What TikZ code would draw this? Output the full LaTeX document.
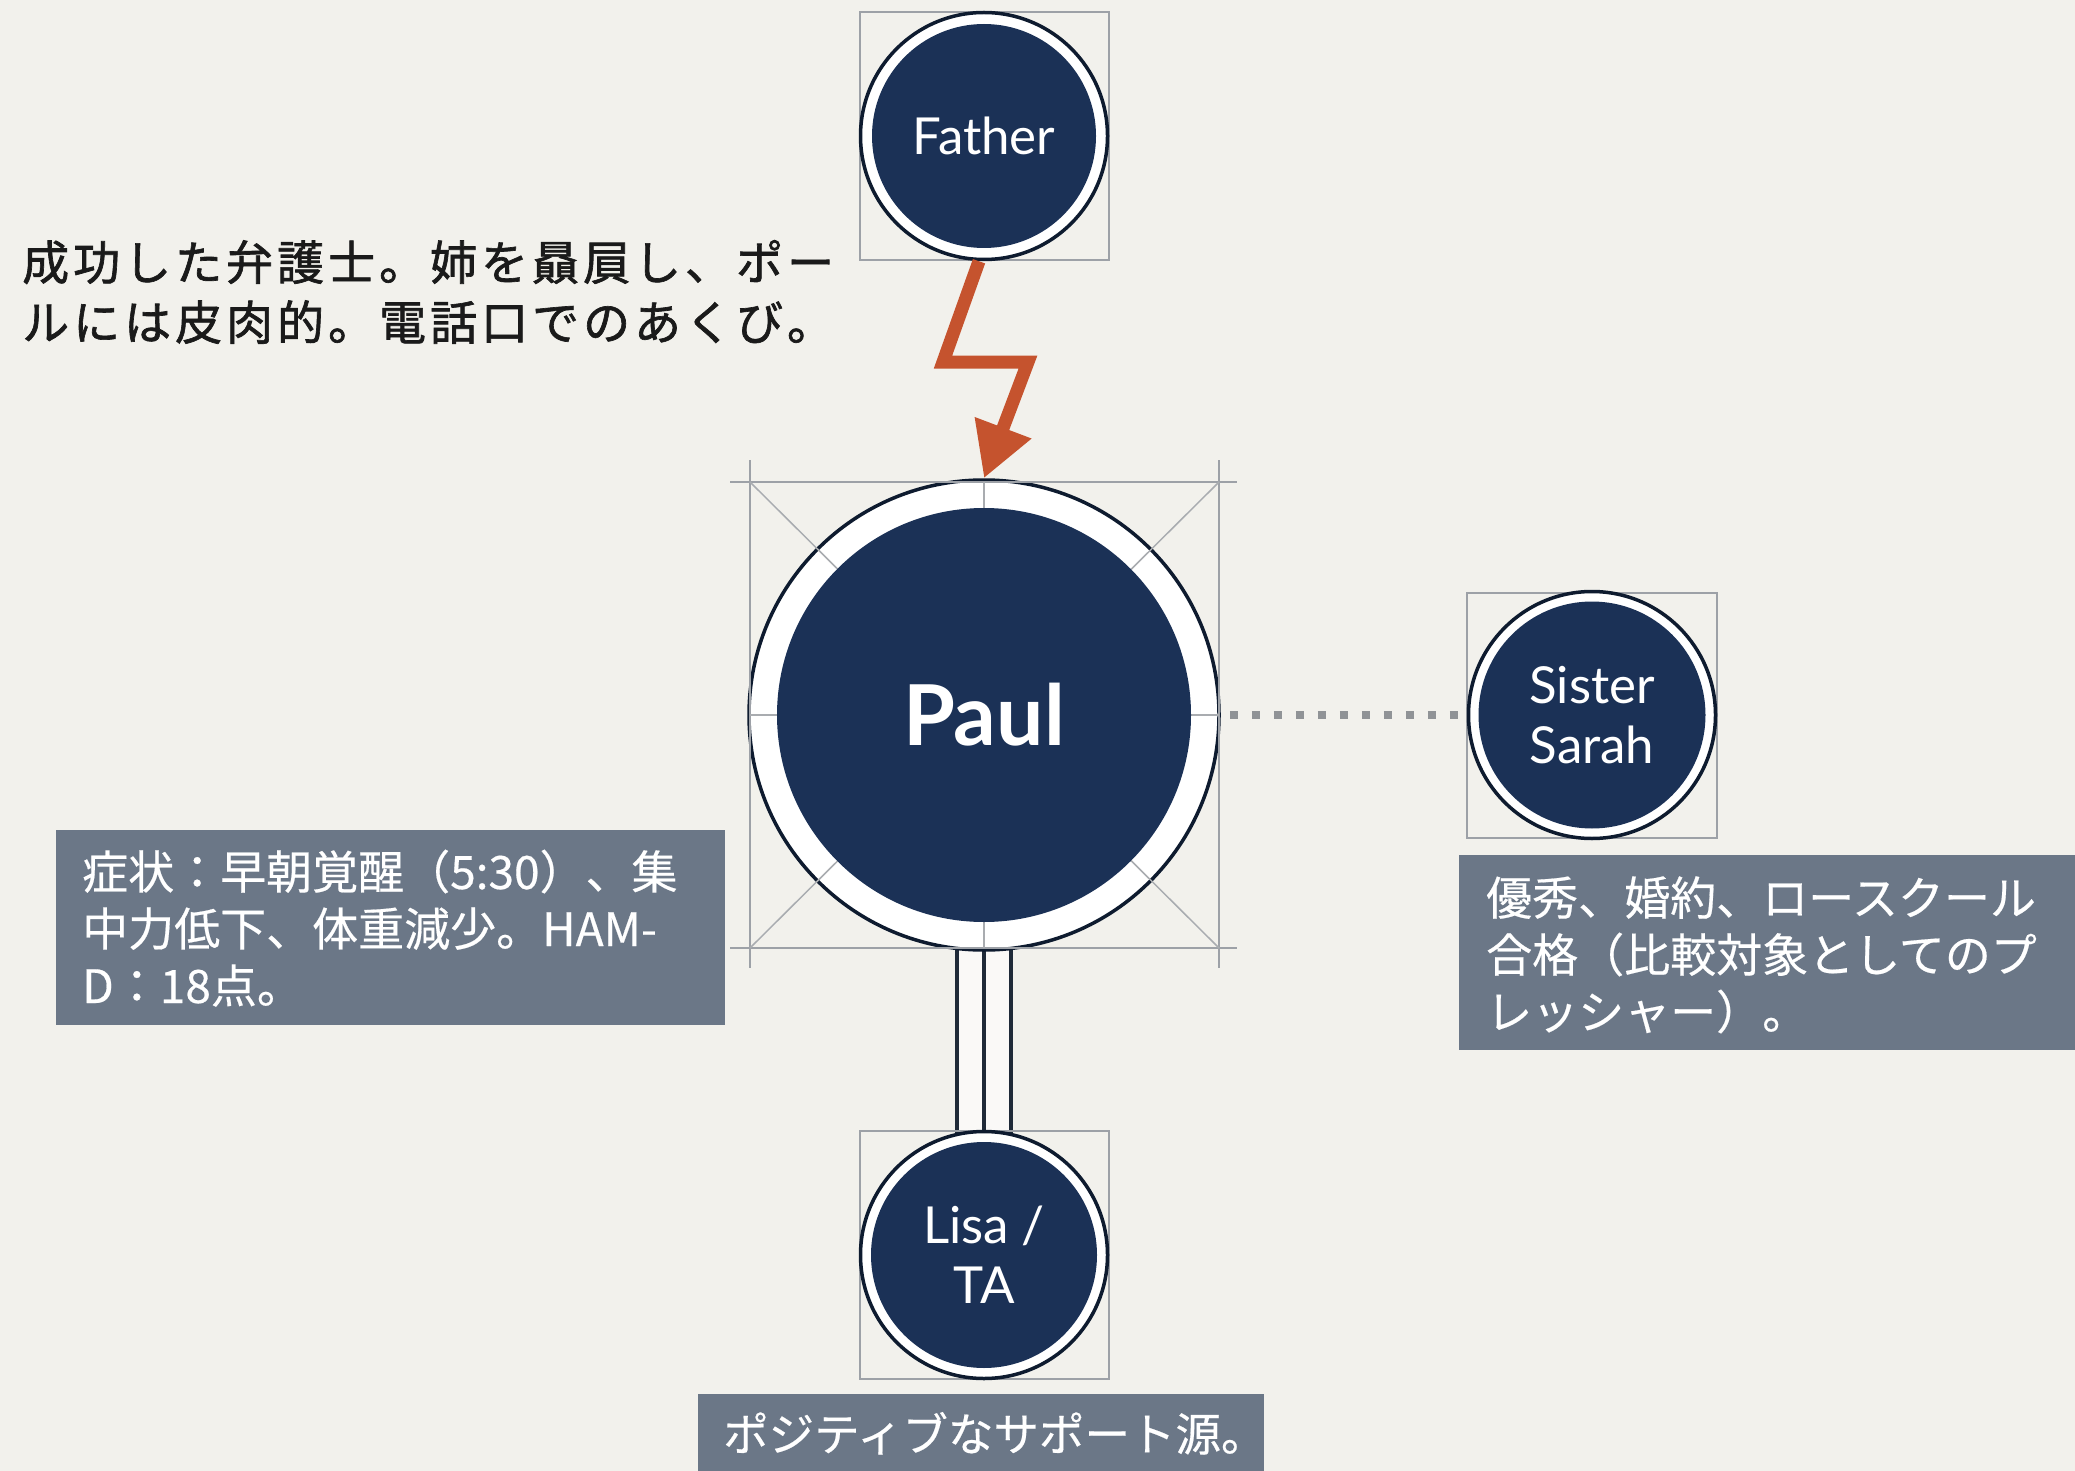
\documentclass[tikz,border=0pt]{standalone}
\usepackage{fontspec}
\newfontfamily\cjk{Noto Sans CJK JP}
\newfontfamily\lato{Lato}
\usetikzlibrary{arrows.meta}
\definecolor{bgc}{HTML}{F2F1EC}
\definecolor{navy}{HTML}{1B3156}
\definecolor{ringc}{HTML}{0E1B2F}
\definecolor{guide}{HTML}{9DA1A7}
\definecolor{guidel}{HTML}{A9ACB0}
\definecolor{slate}{HTML}{6B7787}
\definecolor{boltc}{HTML}{C5532E}
\definecolor{dotc}{HTML}{909396}
\definecolor{connc}{HTML}{1F2A38}
\definecolor{inkc}{HTML}{1A1A1A}
\pgfdeclarelayer{bgl}
\pgfdeclarelayer{connl}
\pgfsetlayers{bgl,connl,main}
\begin{document}
\begin{tikzpicture}[x=1pt,y=-1pt,
  ring/.style={circle, draw=ringc, line width=3.5pt, fill=white, inner sep=0pt},
  core/.style={circle, fill=navy, inner sep=0pt, text=white, align=center,
    font=\lato\fontsize{51}{60}\selectfont},
  guidebox/.style={draw=guide, line width=1.5pt},
  pguide/.style={draw=guide, line width=2.5pt},
  pdiag/.style={draw=guidel, line width=1.5pt},
  labelbox/.style={fill=slate, draw=none},
  boxtext/.style={text=white, anchor=base west, align=left, inner sep=0pt,
    font=\cjk\addfontfeatures{FakeBold=0.4}\fontsize{46}{57}\selectfont},
  conn/.style={draw=connc, line width=3.5pt},
  dotline/.style={draw=dotc, line width=8pt, dash pattern=on 8pt off 14pt, dash phase=13pt},
  bolt/.style={draw=boltc, line width=13pt, miter limit=20,
    -{Triangle[length=54pt,width=57pt]}}]
\useasboundingbox (0,0) rectangle (2075,1471);
\begin{pgfonlayer}{bgl}
  \fill[bgc] (0,0) rectangle (2075,1471);
\end{pgfonlayer}

% small guide boxes
\draw[guidebox] (860,12) rectangle (1109,260);
\draw[guidebox] (1467,593) rectangle (1717,838);
\draw[guidebox] (860,1131) rectangle (1109,1379);

% rings
\node[ring, minimum size=247pt] (father) at (984,136) {};
\node[ring, minimum size=470pt] (paul) at (984,715) {};
\node[ring, minimum size=247pt] (sister) at (1592,715) {};
\node[ring, minimum size=247pt] (lisa) at (984,1255) {};

% Paul construction guides
\draw[pguide] (730,482) -- (1237,482);
\draw[pguide] (730,948) -- (1237,948);
\draw[pguide] (750,460) -- (750,968);
\draw[pguide] (1219,460) -- (1219,968);
\draw[pdiag] (750,482) -- (1219,948);
\draw[pdiag] (1219,482) -- (750,948);
\draw[pdiag] (984,482) -- (984,948);
\draw[pdiag] (750,715) -- (1219,715);

% cores
\node[core, minimum size=224pt] (fatherc) at (father.center) {Father};
\node[core, minimum size=414pt, font=\lato\bfseries\fontsize{84}{90}\selectfont] (paulc) at (paul.center) {Paul};
\node[core, minimum size=227pt] (sisterc) at (sister.center) {Sister\\Sarah};
\node[core, minimum size=226pt] (lisac) at (lisa.center) {Lisa /\\TA};

% connectors
\begin{pgfonlayer}{connl}
  \draw[dotline] (paul.east) -- (sister.west);
  \fill[white!60!bgc] ([xshift=-27pt]paul.center) rectangle ([xshift=27pt]lisa.center);
  \draw[conn] ([xshift=-27pt]paul.center) -- ([xshift=-27pt]lisa.center);
  \draw[conn] (paul.center) -- (lisa.center);
  \draw[conn] ([xshift=27pt]paul.center) -- ([xshift=27pt]lisa.center);
\end{pgfonlayer}

\draw[bolt] ([xshift=-5pt]father.south) -- (943,362) -- (1028,362) -- (paul.north);

% annotation of father
\node[text=inkc, anchor=base west, align=left, inner sep=0pt, text width=900pt,
  font=\cjk\addfontfeatures{LetterSpace=8.5,FakeBold=1.4}\fontsize{47}{60}\selectfont] (fathernote) at (22,280)
  {成功した弁護士。姉を贔屓し、ポー\\ルには皮肉的。電話口でのあくび。};

% label boxes
\node[labelbox, anchor=north west, minimum width=669pt, minimum height=195pt, inner sep=0pt] (symbox) at (56,830) {};
\node[boxtext, text width=640pt] (symtext) at (82,889)
  {症状：早朝覚醒（5:30）、集\\中力低下、体重減少。HAM-\\D：18点。};

\node[labelbox, anchor=north west, minimum width=640pt, minimum height=195pt, inner sep=0pt] (sisbox) at (1459,855) {};
\node[boxtext, text width=600pt] (sistext) at (1486,915)
  {優秀、婚約、ロースクール\\合格（比較対象としてのプ\\レッシャー）。};

\node[labelbox, anchor=north west, minimum width=566pt, minimum height=100pt, inner sep=0pt] (lisabox) at (698,1394) {};
\node[boxtext, text width=540pt, font=\cjk\addfontfeatures{FakeBold=0.4}\fontsize{45.5}{50}\selectfont] (lisatext) at (723,1451)
  {ポジティブなサポート源。};
\end{tikzpicture}
\end{document}
